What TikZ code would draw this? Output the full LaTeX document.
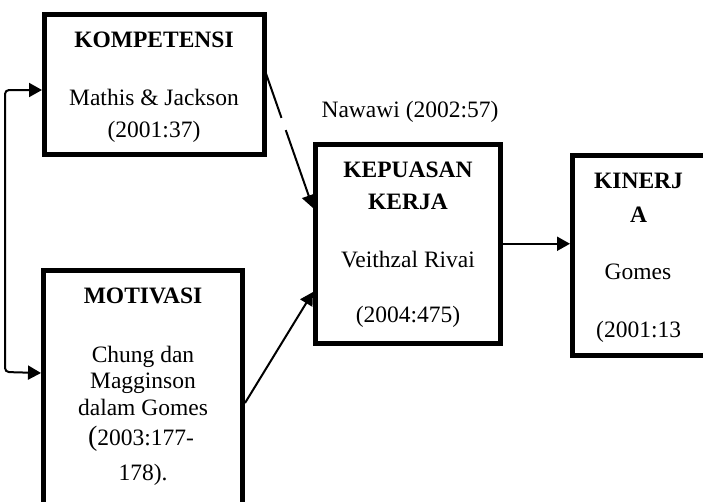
\documentclass[tikz,border=0pt]{standalone}
\usepackage{fontspec}
\setmainfont{Liberation Serif}
\usetikzlibrary{arrows.meta,calc}
\begin{document}
\begin{tikzpicture}[x=1pt,y=-1pt,
  box/.style={draw,line width=5pt,inner sep=0pt},
  txt/.style={inner sep=0pt,anchor=base,font=\fontsize{23.5}{28}\selectfont},
  hd/.style={inner sep=0pt,anchor=base,font=\fontsize{23.5}{28}\selectfont\bfseries},
  arr/.style={line width=2pt,-{Triangle[length=13pt,width=14pt]}},
  darr/.style={line width=2pt,{Triangle[length=13pt,width=14pt]}-{Triangle[length=13pt,width=14pt]}}]
\useasboundingbox (0,0) rectangle (703,501);
% boxes
\node[box,minimum width=220pt,minimum height=140pt] (komp) at (154.5,84.5) {};
\node[box,minimum width=199pt,minimum height=289.5pt] (moti) at (143,415.25) {};
\node[box,minimum width=185pt,minimum height=198.5pt] (kepu) at (408,243.75) {};
\node[box,minimum width=187.5pt,minimum height=200pt] (kine) at (666.25,255.5) {};
% texts
\node[hd] (t1) at (154,47) {KOMPETENSI};
\node[txt] (t2) at (154,105) {Mathis \& Jackson};
\node[txt] (t3) at (154,137) {(2001:37)};
\node[txt] (naw) at (410,117) {Nawawi (2002:57)};
\node[hd] (t4) at (408,177) {KEPUASAN};
\node[hd] (t5) at (408,209) {KERJA};
\node[txt] (t6) at (408,267) {Veithzal Rivai};
\node[txt] (t7) at (408,322) {(2004:475)};
\node[hd] (t8) at (638.5,188) {KINERJ};
\node[hd] (t9) at (638.5,222) {A};
\node[txt] (t10) at (638,279) {Gomes};
\node[txt,anchor=base west] (t11) at (596,337) {(2001:13};
\node[hd] (t12) at (143,303) {MOTIVASI};
\node[txt] (t13) at (143,362) {Chung dan};
\node[txt] (t14) at (143,388) {Magginson};
\node[txt] (t15) at (143,415) {dalam Gomes};
\node[txt] (t16) at (141,445) {{\fontsize{28}{28}\selectfont(}2003:177-};
\node[txt] (t17) at (143,480) {178).};
% connectors
\draw[darr,rounded corners=4pt] ($(komp.west)+(0,5.5)$) -- (5,90) -- (5,372) -- ($(moti.north west)+(0,105)$);
\draw[arr,dash pattern=on 56pt off 13pt on 300pt] ($(komp.north east)+(-4,53)$) -- ($(kepu.north west)+(0,66)$);
\draw[arr] ($(moti.north east)+(0,135)$) -- ($(kepu.north west)+(0,150)$);
\draw[arr] (kepu.east) -- (kepu.east -| kine.west);
\end{tikzpicture}
\end{document}
